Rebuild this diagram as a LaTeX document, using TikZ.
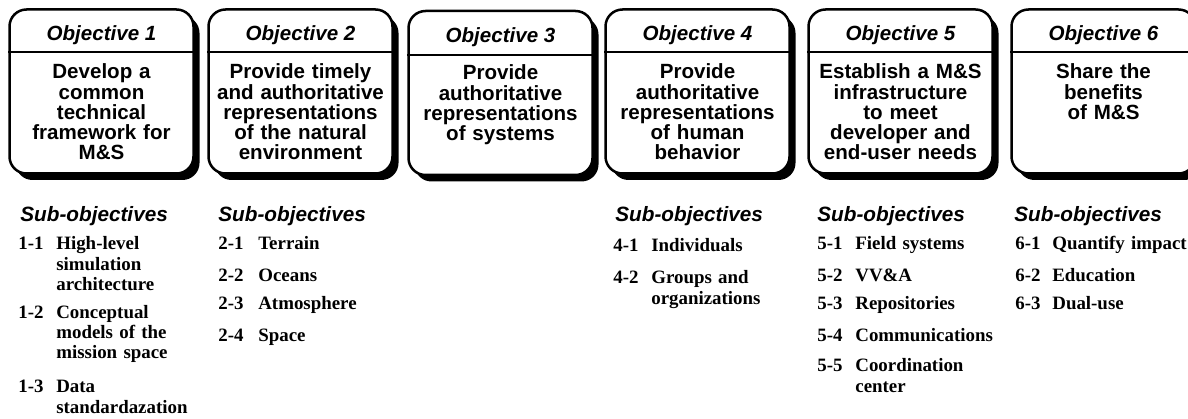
\documentclass[tikz,border=0pt]{standalone}
\usepackage{fontspec}
\setmainfont{Liberation Serif}
\setsansfont{Liberation Sans}
\usetikzlibrary{shadows}

\begin{document}
\begin{tikzpicture}[scale=1]
        % ================= 样式定义 =================
        \tikzset{
            % 目标框:白底黑边圆角,右下角带黑色阴影
            objbox/.style={draw=black, line width=0.05cm, fill=white, rounded corners=0.34cm,
                minimum width=3.68cm, minimum height=3.28cm,
                drop shadow={shadow xshift=0.12cm, shadow yshift=-0.13cm, opacity=1, fill=black}},
            % 框内标题:粗斜体无衬线
            objtitle/.style={anchor=base, inner sep=0pt, font=\sffamily\bfseries\itshape\fontsize{11.7}{11.4}\selectfont},
            % 框内正文:粗体无衬线,居中
            objtext/.style={anchor=base, inner sep=0pt, text width=3.6cm, align=center,
                font=\sffamily\bfseries\fontsize{11.7}{11.4}\selectfont},
            % 标题下面的分隔线
            headline/.style={draw=black, line width=0.05cm},
            % 子目标小标题
            subhead/.style={anchor=base west, inner sep=0pt, font=\sffamily\bfseries\itshape\fontsize{11.8}{11.4}\selectfont},
            % 子目标编号和内容:粗体衬线
            subnum/.style={anchor=base west, inner sep=0pt, font=\rmfamily\bfseries\fontsize{10.75}{11.4}\selectfont},
            subtext/.style={subnum, text width=3.2cm, align=left}
        }

        % 固定画布大小 (右边的框被裁掉一点)
        \useasboundingbox (0,0) rectangle (23.76,-8.38);

        % ================= 目标框 =================

        % Objective 1
        \node[objbox] (obj1) at (2.03,-1.83) {};
        \node[objtitle] (t1) at (2.03,-0.82) {Objective 1};
        \draw[headline] (obj1.west |- 0,-1.04) -- (obj1.east |- 0,-1.04);
        \node[objtext] (d1) at (2.03,-1.58) {Develop a\\common\\technical\\framework for\\M\&S};

        % Objective 2
        \node[objbox] (obj2) at (6.01,-1.83) {};
        \node[objtitle] (t2) at (6.01,-0.82) {Objective 2};
        \draw[headline] (obj2.west |- 0,-1.04) -- (obj2.east |- 0,-1.04);
        \node[objtext] (d2) at (6.01,-1.58) {Provide timely\\and authoritative\\representations\\of the natural\\environment};

        % Objective 3 (整体略低一点)
        \node[objbox] (obj3) at (10.01,-1.86) {};
        \node[objtitle] (t3) at (10.01,-0.86) {Objective 3};
        \draw[headline] (obj3.west |- 0,-1.10) -- (obj3.east |- 0,-1.10);
        \node[objtext] (d3) at (10.01,-1.60) {Provide\\authoritative\\representations\\of systems};

        % Objective 4
        \node[objbox] (obj4) at (13.95,-1.83) {};
        \node[objtitle] (t4) at (13.95,-0.82) {Objective 4};
        \draw[headline] (obj4.west |- 0,-1.04) -- (obj4.east |- 0,-1.04);
        \node[objtext] (d4) at (13.95,-1.58) {Provide\\authoritative\\representations\\of human\\behavior};

        % Objective 5
        \node[objbox] (obj5) at (18.01,-1.83) {};
        \node[objtitle] (t5) at (18.01,-0.82) {Objective 5};
        \draw[headline] (obj5.west |- 0,-1.04) -- (obj5.east |- 0,-1.04);
        \node[objtext] (d5) at (18.01,-1.58) {Establish a M\&S\\infrastructure\\to meet\\developer and\\end-user needs};

        % Objective 6
        \node[objbox] (obj6) at (22.07,-1.83) {};
        \node[objtitle] (t6) at (22.07,-0.82) {Objective 6};
        \draw[headline] (obj6.west |- 0,-1.04) -- (obj6.east |- 0,-1.04);
        \node[objtext] (d6) at (22.07,-1.58) {Share the\\benefits\\of M\&S};

        % ================= 子目标列表 =================

        % 第 1 列
        \node[subhead] (h1) at (0.40,-4.44) {Sub-objectives};
        \node[subnum] (n11) at (0.36,-5.00) {1-1};
        \node[subtext] (s11) at (1.12,-5.00) {High-level\\simulation\\architecture};
        \node[subnum] (n12) at (0.36,-6.36) {1-2};
        \node[subtext] (s12) at (1.12,-6.36) {Conceptual\\models of the\\mission space};
        \node[subnum] (n13) at (0.36,-7.84) {1-3};
        \node[subtext] (s13) at (1.12,-7.84) {Data\\[1pt]standardazation};

        % 第 2 列
        \node[subhead] (h2) at (4.36,-4.44) {Sub-objectives};
        \node[subnum] (n21) at (4.36,-5.00) {2-1};
        \node[subtext] (s21) at (5.16,-5.00) {Terrain};
        \node[subnum] (n22) at (4.36,-5.64) {2-2};
        \node[subtext] (s22) at (5.16,-5.64) {Oceans};
        \node[subnum] (n23) at (4.36,-6.20) {2-3};
        \node[subtext] (s23) at (5.16,-6.20) {Atmosphere};
        \node[subnum] (n24) at (4.36,-6.84) {2-4};
        \node[subtext] (s24) at (5.16,-6.84) {Space};

        % 第 4 列 (第 3 个目标没有子目标)
        \node[subhead] (h4) at (12.30,-4.44) {Sub-objectives};
        \node[subnum] (n41) at (12.26,-5.04) {4-1};
        \node[subtext] (s41) at (13.02,-5.04) {Individuals};
        \node[subnum] (n42) at (12.26,-5.68) {4-2};
        \node[subtext] (s42) at (13.02,-5.68) {Groups and\\organizations};

        % 第 5 列
        \node[subhead] (h5) at (16.34,-4.44) {Sub-objectives};
        \node[subnum] (n51) at (16.34,-5.00) {5-1};
        \node[subtext] (s51) at (17.10,-5.00) {Field systems};
        \node[subnum] (n52) at (16.34,-5.64) {5-2};
        \node[subtext] (s52) at (17.10,-5.64) {VV\&A};
        \node[subnum] (n53) at (16.34,-6.20) {5-3};
        \node[subtext] (s53) at (17.10,-6.20) {Repositories};
        \node[subnum] (n54) at (16.34,-6.84) {5-4};
        \node[subtext] (s54) at (17.10,-6.84) {Communications};
        \node[subnum] (n55) at (16.34,-7.44) {5-5};
        \node[subtext] (s55) at (17.10,-7.44) {Coordination\\center};

        % 第 6 列
        \node[subhead] (h6) at (20.28,-4.44) {Sub-objectives};
        \node[subnum] (n61) at (20.30,-5.00) {6-1};
        \node[subtext] (s61) at (21.04,-5.00) {Quantify impact};
        \node[subnum] (n62) at (20.30,-5.64) {6-2};
        \node[subtext] (s62) at (21.04,-5.64) {Education};
        \node[subnum] (n63) at (20.30,-6.20) {6-3};
        \node[subtext] (s63) at (21.04,-6.20) {Dual-use};

    \end{tikzpicture}
\end{document}
